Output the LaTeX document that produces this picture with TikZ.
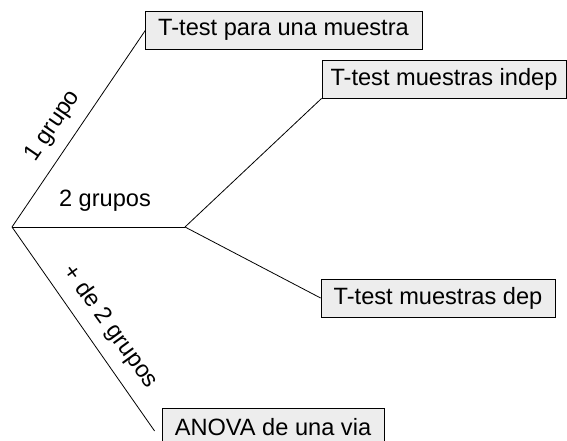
\documentclass[tikz,border=0pt]{standalone}
\usepackage{fontspec}
\setmainfont{Liberation Sans}
\begin{document}
\begin{tikzpicture}[x=1pt,y=-1pt,
  box/.style={draw=black, fill=black!7, line width=0.8pt, minimum height=38pt, inner sep=0pt, font=\fontsize{23.6}{28}\selectfont},
  lbl/.style={font=\fontsize{23.6}{28}\selectfont, inner sep=0pt},
  conn/.style={draw=black, line width=0.8pt}]
\useasboundingbox (0,0) rectangle (567,441);
\coordinate (root) at (12,227);
\coordinate (junc) at (185,227);
\node[box, minimum width=277pt] (b1) at (283.5,30) {T-test para una muestra};
\node[box, minimum width=244pt] (b2) at (444,79) {T-test muestras indep};
\node[box, minimum width=234pt] (b3) at (438,298) {T-test muestras dep};
\node[box, minimum width=222pt] (b4) at (273,427) {ANOVA de una via};
\draw[conn] (root) -- ([xshift=1pt]b1.west);
\draw[conn] (root) -- (junc);
\draw[conn] (junc) -- (b2.south west);
\draw[conn] (junc) -- (b3.west);
\draw[conn] (root) -- ([xshift=-7pt,yshift=-4pt]b4.west);
\node[lbl, rotate=55.6] (l1) at (53,126) {1 grupo};
\node[lbl] (l2) at (105,201) {2 grupos};
\node[lbl, rotate=-54] (l3) at (110,327) {+ de 2 grupos};
\end{tikzpicture}
\end{document}
